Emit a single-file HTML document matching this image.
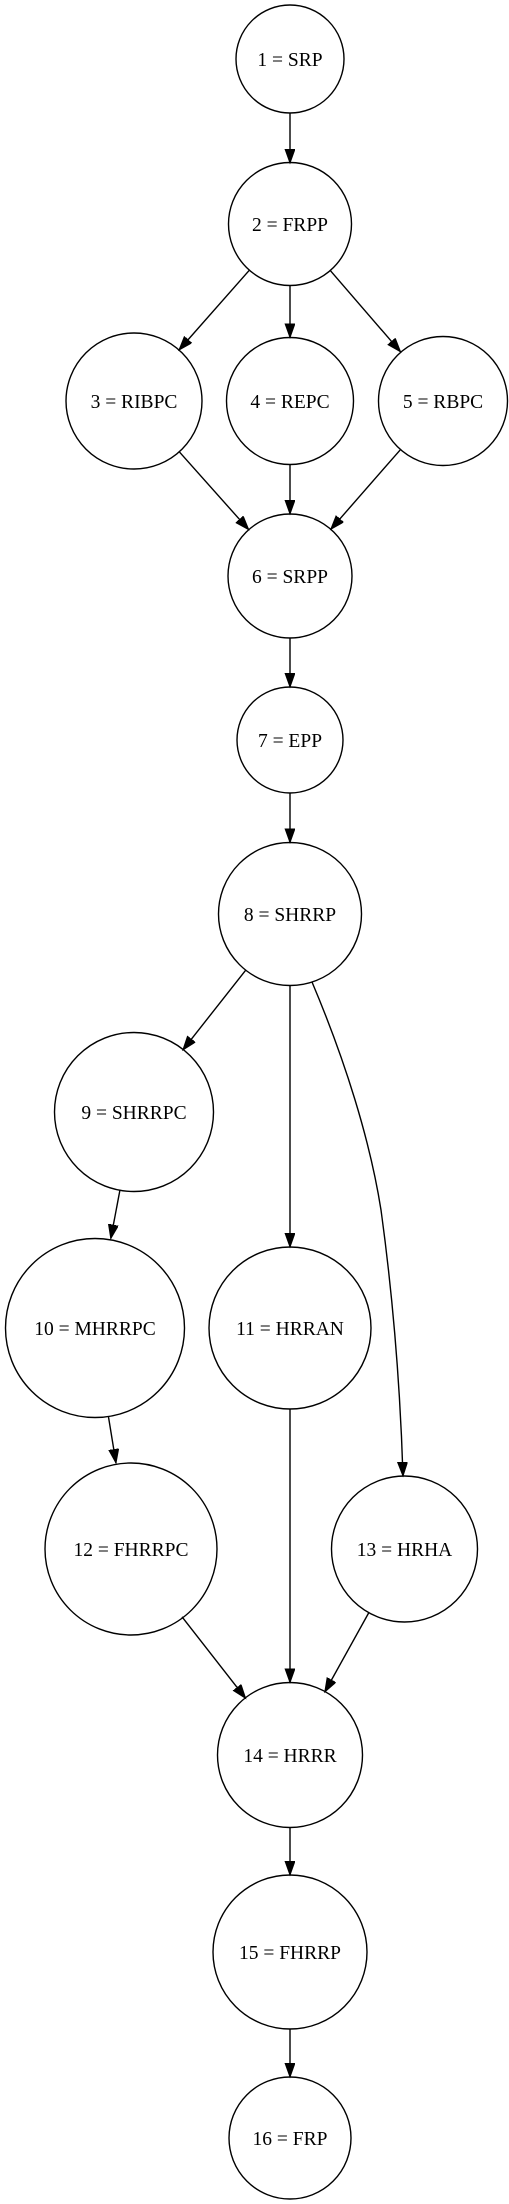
<!DOCTYPE html>
<html><head><meta charset="utf-8"><style>
html,body{margin:0;padding:0;background:#fff;}
svg{display:block;}
text{font-family:"Liberation Serif",serif;font-size:19.5px;fill:#000;}
</style></head><body>
<svg width="509" height="2204" viewBox="0 0 509 2204" xmlns="http://www.w3.org/2000/svg">
<defs>
<marker id="a" markerUnits="userSpaceOnUse" markerWidth="16" markerHeight="12" refX="14" refY="5" orient="auto">
<path d="M0,0 L14,5 L0,10 z" fill="#000" stroke="#000" stroke-width="1"/>
</marker>
</defs>
<g fill="none" stroke="#000" stroke-width="1.4">
<circle cx="290" cy="59" r="54"/>
<circle cx="290" cy="224" r="61.5"/>
<circle cx="134" cy="401" r="68"/>
<circle cx="290" cy="401" r="63.5"/>
<circle cx="443" cy="401" r="64.5"/>
<circle cx="290" cy="576" r="62"/>
<circle cx="290" cy="740" r="53"/>
<circle cx="290" cy="914" r="71.5"/>
<circle cx="134" cy="1112" r="79.5"/>
<circle cx="95" cy="1328" r="89.5"/>
<circle cx="290" cy="1328" r="81"/>
<circle cx="131" cy="1549" r="86"/>
<circle cx="404.5" cy="1549" r="73"/>
<circle cx="290" cy="1755" r="72.5"/>
<circle cx="290" cy="1952" r="77"/>
<circle cx="290" cy="2138" r="61"/>
</g>
<g fill="none" stroke="#000" stroke-width="1.4" marker-end="url(#a)">
<path d="M290,113 L290,163"/>
<path d="M249.7,269.8 L179,350"/>
<path d="M290,285.5 L290,337.5"/>
<path d="M329.9,270.1 L400.5,351.8"/>
<path d="M179.3,451.8 L248.7,529.7"/>
<path d="M290,464.5 L290,514"/>
<path d="M400.2,449.9 L330.8,529.3"/>
<path d="M290,638 L290,687"/>
<path d="M290,793 L290,842.5"/>
<path d="M246,969.8 L182.9,1049.9"/>
<path d="M290,985.5 L290,1247"/>
<path d="M312,982 C345,1060 370,1140 381,1210 C392,1290 400,1380 403,1476"/>
<path d="M120,1189.7 L110.8,1238.5"/>
<path d="M108.5,1417 L116,1463"/>
<path d="M290,1409 L290,1682.5"/>
<path d="M182,1616.8 L245.6,1698.3"/>
<path d="M368.7,1612.9 L324.8,1692"/>
<path d="M290,1827.5 L290,1875"/>
<path d="M290,2029 L290,2077"/>
</g>
<g text-anchor="middle">
<text x="290" y="66">1 = SRP</text>
<text x="290" y="231">2 = FRPP</text>
<text x="134" y="408">3 = RIBPC</text>
<text x="290" y="408">4 = REPC</text>
<text x="443" y="408">5 = RBPC</text>
<text x="290" y="583">6 = SRPP</text>
<text x="290" y="747">7 = EPP</text>
<text x="290" y="921">8 = SHRRP</text>
<text x="134" y="1119">9 = SHRRPC</text>
<text x="95" y="1335">10 = MHRRPC</text>
<text x="290" y="1335">11 = HRRAN</text>
<text x="131" y="1556">12 = FHRRPC</text>
<text x="404.5" y="1556">13 = HRHA</text>
<text x="290" y="1762">14 = HRRR</text>
<text x="290" y="1959">15 = FHRRP</text>
<text x="290" y="2145">16 = FRP</text>
</g>
</svg>
</body></html>
